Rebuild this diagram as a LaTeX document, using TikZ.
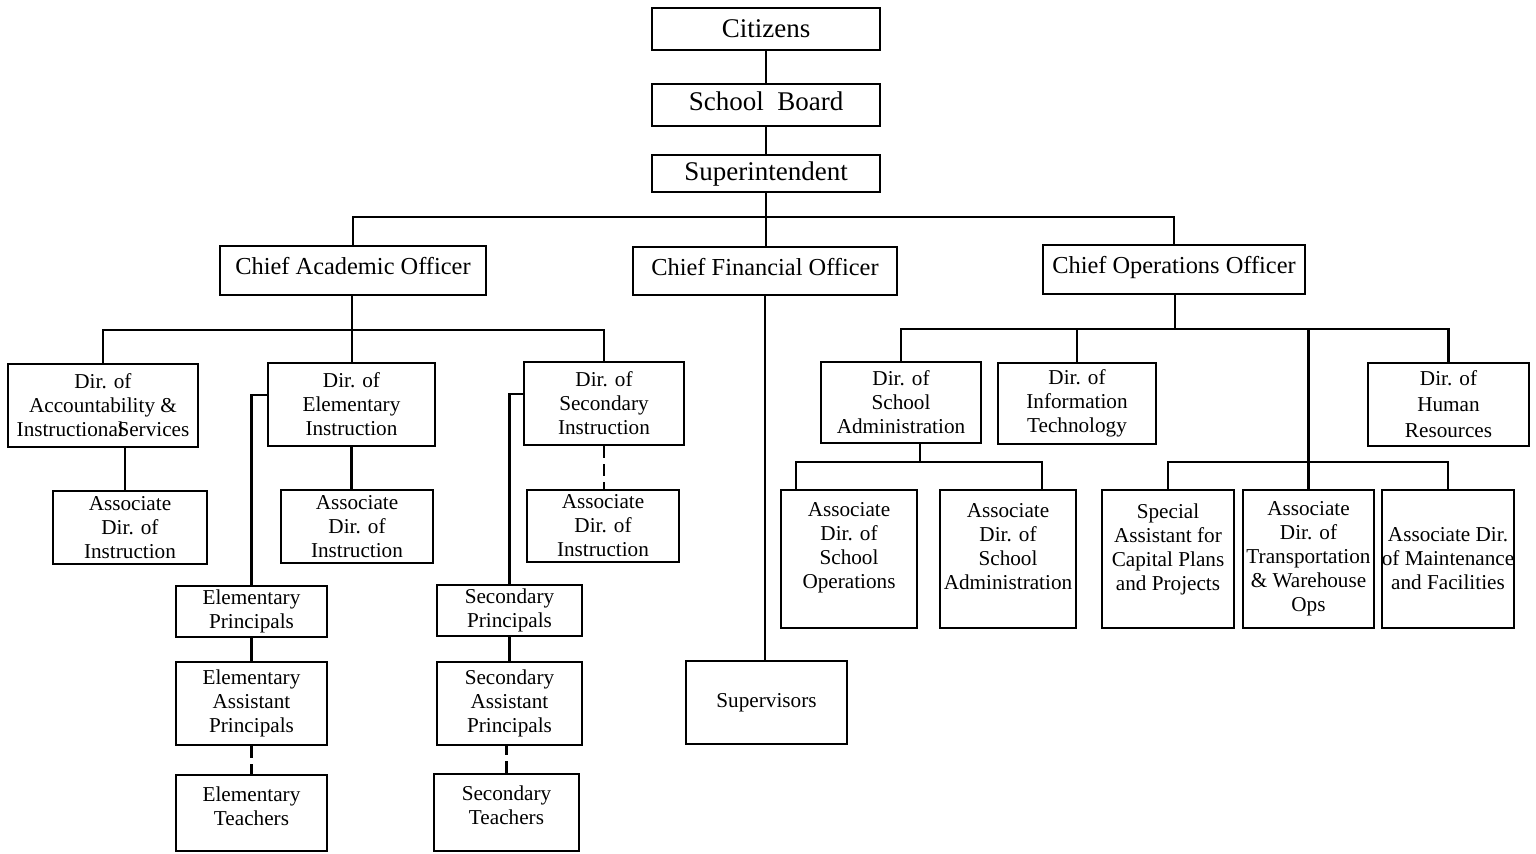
\documentclass[tikz,border=0pt]{standalone}
\usepackage{fontspec}
\setmainfont{Liberation Serif}
\begin{document}
\begin{tikzpicture}[x=0.5pt,y=-0.5pt]
\tikzset{
  bx/.style={draw, line width=1.1pt, inner sep=0pt, align=center, font=\fontsize{10.6}{12}\selectfont},
  big/.style={font=\fontsize{13.5}{16}\selectfont},
  chief/.style={font=\fontsize{12.2}{14}\selectfont},
  sz/.style 2 args={minimum width=#1*0.5pt, minimum height=#2*0.5pt},
  ln/.style={line width=1.1pt},
  dln/.style={line width=1.1pt, dash pattern=on 6pt off 3pt},
}
\useasboundingbox (0,0) rectangle (1536,853);
% top chain
\node[bx,big,sz={228}{42}] (cit) at (766,29) {Citizens};
\node[bx,big,sz={228}{42},text depth=4pt] (sb) at (766,105) {School\ \ Board};
\node[bx,big,sz={228}{37}] (sup) at (766,173.5) {Superintendent};
% chiefs
\node[bx,chief,sz={266}{49},text depth=5pt] (cao) at (353,270.5) {Chief Academic Officer};
\node[bx,chief,sz={264}{48},text depth=4pt] (cfo) at (765,271) {Chief Financial Officer};
\node[bx,chief,sz={262}{49},text depth=5pt] (coo) at (1174,269.5) {Chief Operations Officer};
% academic branch
\node[bx,sz={190}{83}] (dacc) at (103,405.5) {Dir. of\\Accountability \&\\Instructional\hspace{-0.3em}Services};
\node[bx,sz={167}{83}] (delem) at (351.5,404.5) {Dir. of\\Elementary\\Instruction};
\node[bx,sz={160}{83}] (dsec) at (604,403.5) {Dir. of\\Secondary\\Instruction};
\node[bx,sz={154}{73}] (a1) at (130,527.5) {Associate\\Dir. of\\Instruction};
\node[bx,sz={152}{73}] (a2) at (357,526.5) {Associate\\Dir. of\\Instruction};
\node[bx,sz={152}{72}] (a3) at (603,526) {Associate\\Dir. of\\Instruction};
\node[bx,sz={151}{51}] (ep) at (251.5,611.5) {Elementary\\Principals};
\node[bx,sz={151}{83}] (eap) at (251.5,703.5) {Elementary\\Assistant\\Principals};
\node[bx,sz={151}{76},text depth=6.8pt] (et) at (251.5,813) {Elementary\\Teachers};
\node[bx,sz={145}{51}] (sp) at (509.5,610.5) {Secondary\\Principals};
\node[bx,sz={145}{83}] (sap) at (509.5,703.5) {Secondary\\Assistant\\Principals};
\node[bx,sz={145}{77},text depth=7.3pt] (st) at (506.5,812.5) {Secondary\\Teachers};
% financial branch
\node[bx,sz={161}{83}] (supv) at (766.5,702.5) {Supervisors};
% operations branch
\node[bx,sz={160}{81}] (dsa) at (901,402.5) {Dir. of\\School\\Administration};
\node[bx,sz={158}{81}] (dit) at (1077,403.5) {Dir. of\\Information\\Technology};
\node[bx,sz={161}{83},font=\fontsize{10.6}{13}\selectfont] (dhr) at (1448.5,404.5) {Dir. of\\Human\\Resources};
\node[bx,sz={136}{138},text depth=14pt] (aso) at (849,559) {Associate\\Dir. of\\School\\Operations};
\node[bx,sz={136}{138},text depth=12.3pt] (asa) at (1008,559) {Associate\\Dir. of\\School\\Administration};
\node[bx,sz={132}{138},text depth=12.3pt] (spa) at (1168,559) {Special\\Assistant for\\Capital Plans\\and Projects};
\node[bx,sz={131}{138}] (atw) at (1308.5,559) {Associate\\Dir. of\\Transportation\\\& Warehouse\\Ops};
\node[bx,sz={132}{138}] (amf) at (1448,559) {Associate Dir.\\of Maintenance\\and Facilities};
% bus coordinates
\coordinate (bus1) at (766,217);
\coordinate (bus2) at (352,330);
\coordinate (bus3) at (1175,329);
\coordinate (bus4) at (1308,462);
\coordinate (bus5) at (920,462);
% connectors: top
\draw[ln] (cit) -- (sb);
\draw[ln] (sb) -- (sup);
\draw[ln] (sup.south) -- (sup.south |- cfo.north);
\draw[ln] (cao.north) |- (bus1) -| (coo.north);
% academic
\draw[ln] (bus2 |- cao.south) -- (bus2);
\draw[ln] (dacc.north) |- (bus2) -| (dsec.north);
\draw[ln] (bus2) -- (bus2 |- delem.north);
\draw[ln] ([xshift=-2.5pt]a1.north) -- ([xshift=-2.5pt]a1.north |- dacc.south);
\draw[ln] (delem.south) -- (delem.south |- a2.north);
\draw[dln] (dsec.south) -- (dsec.south |- a3.north);
\draw[ln] ([yshift=4.75pt]delem.west) -| (ep.north);
\draw[ln] (ep.south) -- (eap.north);
\draw[dln] (eap.south) -- (eap.south |- et.north);
\draw[ln] ([yshift=4.75pt]dsec.west) -| (sp.north);
\draw[ln] (sp.south) -- (sap.north);
\draw[dln] (st.north) -- (st.north |- sap.south);
% financial
\draw[ln] (cfo.south) -- (cfo.south |- supv.north);
% operations
\draw[ln] (bus3 |- coo.south) -- (bus3);
\draw[ln] (dsa.north) |- (bus3) -| (dhr.north);
\draw[ln] (dit.north) -- (dit.north |- bus3);
\draw[ln] (atw.north) -- (atw.north |- bus3);
\draw[ln] (spa.north) |- (bus4) -| (amf.north);
\draw[ln] (bus5 |- dsa.south) -- (bus5);
\draw[ln] ([xshift=-26.5pt]aso.north) |- (bus5) -| ([xshift=17pt]asa.north);
\end{tikzpicture}
\end{document}
